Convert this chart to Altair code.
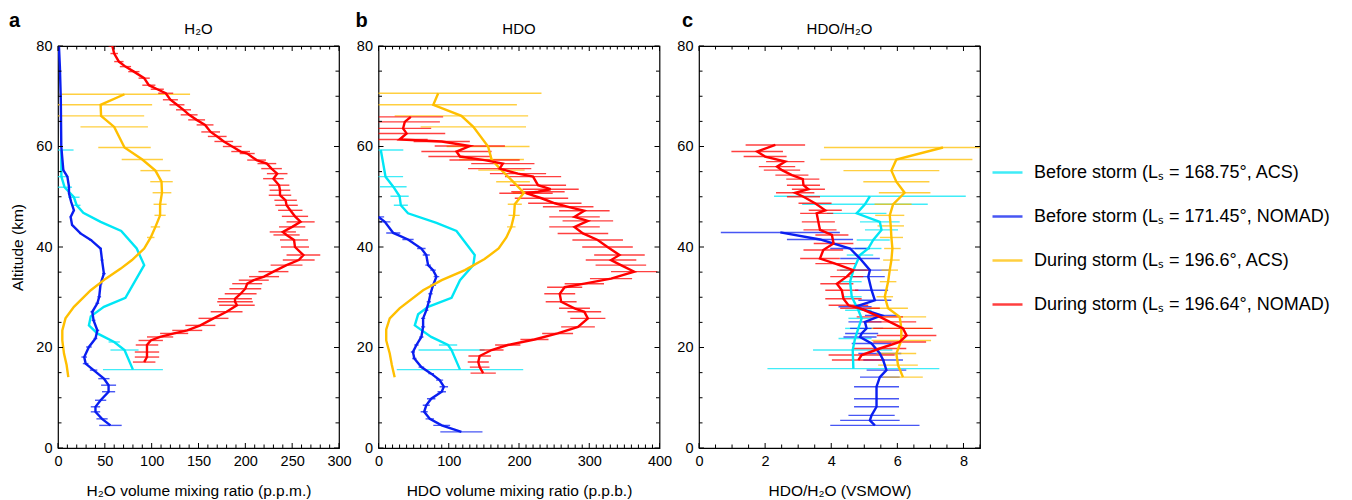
import altair as alt
import pandas as pd

FONT = "Liberation Sans"
SERIES = [
    "Before storm (Lₛ = 168.75°, ACS)",
    "Before storm (Lₛ = 171.45°, NOMAD)",
    "During storm (Lₛ = 196.6°, ACS)",
    "During storm (Lₛ = 196.64°, NOMAD)",
]
COLORS = ["#00e6f5", "#0a1ef0", "#ffbf00", "#ff0000"]

# ---------------- Panel a: H2O (p.p.m.) ----------------
a_cyan_alt = [59.3, 54.0, 51.9, 49.9, 48.3, 46.8, 45.0, 43.2, 39.7, 36.4, 29.9, 28.1, 26.2, 24.4, 22.8, 21.1, 19.5, 15.6]
a_cyan_val = [3.6, 3.6, 7, 17, 20, 27, 45.5, 67.5, 84, 92, 72, 49, 35, 33, 42, 60, 71, 80]
a_cyan_err = [13, 5, 8, 6, 4, 0, 0, 0, 0, 0, 0, 0, 0, 0, 0, 6, 15, 32]

a_blue_alt = [80, 75.9, 69.3, 60, 55.3, 54, 52, 50.7, 49, 47.3, 46, 44.4, 42.7, 41.4, 39.7, 37.4, 34.7, 32.7, 30.1, 28.8,
              27.1, 25.4, 23.4, 21.8, 20.1, 18.1, 16.8, 15.5, 13.8, 12.5, 11.2, 9.5, 8.2, 7.2, 5.8, 4.5]
a_blue_val = [1, 2, 3, 3.5, 5.7, 10, 11.7, 11.7, 14, 17, 13.5, 15, 24, 35, 45.5, 47, 49, 45.5, 44, 42,
              36.6, 38, 42, 40, 33, 28, 29.5, 38, 49, 54, 54, 45.5, 40, 40, 47, 56]
a_blue_err = [0, 0, 0, 0, 1, 1, 1, 1, 1, 1, 1, 1, 1.5, 1.5, 1.5, 1.5, 2, 2, 2, 2,
              2, 2, 2, 2, 3, 3, 3, 4, 6, 8, 7, 6, 5, 5, 6, 12]

a_orange_alt = [70.4, 68.3, 66.1, 63.9, 59.8, 57.4, 55.2, 53.0, 50.8, 48.5, 46.3, 44.0, 41.9, 39.7, 37.4, 35.7, 33.7,
                31.4, 28.1, 25.8, 23.4, 21.4, 18.8, 16.5, 14.1]
a_orange_val = [71, 45.5, 46, 60, 71, 90, 104, 110.5, 111, 109, 109, 104, 99, 92, 79, 67, 51, 35, 17, 8, 4.6, 4.6,
                6.4, 9.2, 11]
a_orange_err = [70, 55, 46, 36, 28, 22, 16, 12, 10, 7, 6, 5, 4, 0, 0, 0, 0, 0, 0, 0, 0, 0, 0, 0, 0]

a_red_alt = [80, 78.5, 76.9, 75.9, 74.9, 73.6, 72.2, 71.4, 70.6, 69.3, 68.3, 67.3, 66.3, 65.3, 64.3, 62.9, 62.0, 61.0,
             60.0, 59.0, 58.6, 57.3, 56.6, 55.6, 54.6, 53.6, 52.3, 51.3, 50.3, 49.3, 48.3, 47.3, 46.1, 45.0, 44.0,
             43.0, 42.4, 41.4, 40.0, 38.4, 37.4, 36.4, 35.1, 34.1, 33.4, 32.7, 31.7, 30.7, 29.7, 29.1, 28.4, 27.1,
             25.8, 24.4, 23.4, 22.8, 22.1, 21.4, 20.5, 19.1, 18.1, 17.1]
a_red_val = [58, 60, 65, 72, 81, 92, 97, 106, 115, 120, 127, 134, 140, 148, 157, 163, 170, 177, 186, 195, 202, 212,
             223, 228, 234, 230, 236, 237, 237, 243, 244, 248, 253, 259, 250, 240, 244, 252, 253, 262, 257, 244,
             230, 220, 209, 202, 200, 195, 189, 189, 191, 180, 166, 152, 138, 124, 109, 99, 95, 95, 95, 92]
a_red_err = [4, 4, 5, 6, 6, 6, 7, 7, 8, 8, 8, 8, 9, 9, 9, 10, 10, 10, 10, 10, 8, 10, 10, 11, 11, 11, 11, 11, 12,
             12, 12, 13, 14, 15, 14, 14, 14, 15, 15, 18, 17, 17, 16, 16, 16, 16, 17, 17, 18, 19, 19, 17, 16, 16,
             16, 15, 14, 13, 12, 13, 13, 12]

# ---------------- Panel b: HDO (p.p.b.) ----------------
b_cyan_alt = [59.3, 54.0, 52.0, 50.1, 48.3, 46.7, 44.8, 43.2, 39.7, 38.4, 36.4, 33.4, 29.9, 28.1, 26.6, 24.4, 22.1,
              20.5, 19.5, 15.6]
b_cyan_val = [3.3, 10, 21, 30, 31.8, 42, 82.5, 111, 130, 137, 135, 116, 104, 70.6, 56.4, 51.7, 75, 99, 104, 116]
b_cyan_err = [32, 25, 19, 13, 10, 0, 0, 0, 0, 0, 0, 0, 0, 0, 0, 0, 0, 13, 47, 90]

b_blue_alt = [46, 45, 42.8, 41.5, 39.7, 38.4, 36.4, 35.4, 34.1, 32.4, 30.7, 29.1, 27.4, 25.8, 24.1, 22.1, 20.5, 19.1,
              17.8, 16.1, 14.8, 13.5, 12.2, 11.2, 9.8, 8.5, 7.2, 5.8, 4.5, 3.2]
b_blue_val = [0, 9, 21, 42, 61, 68, 70.6, 77.7, 82.5, 77.7, 74, 71.6, 68, 63.5, 63.5, 61, 54, 49, 51, 61, 75, 87, 93,
              90, 75, 68, 65, 73, 90, 118]
b_blue_err = [8, 8, 10, 8, 6, 5, 4, 4, 4, 4, 3, 3, 3, 3, 3, 3, 3, 3, 3, 4, 4, 5, 6, 6, 6, 5, 5, 6, 12, 30]

b_orange_alt = [70.6, 68.3, 66.1, 63.9, 60.0, 57.4, 55.3, 53.0, 50.8, 48.5, 46.3, 44.0, 41.9, 39.7, 37.6, 35.4, 33.4,
                31.4, 27.8, 25.8, 23.6, 21.4, 18.8, 16.5, 14.1]
b_orange_val = [85, 78, 118, 135, 156, 161, 175, 191.5, 207, 194, 193, 189, 182, 171, 151, 123, 90, 63.5, 30, 16, 11,
                11, 16, 19, 23]
b_orange_err = [147, 119, 95, 75, 59, 46, 33, 24, 16, 10, 8, 6, 0, 0, 0, 0, 0, 0, 0, 0, 0, 0, 0, 0, 0]

b_red_alt = [65.9, 64.9, 63.6, 62.6, 61.4, 61.0, 60.1, 59.0, 58.0, 57.3, 56.6, 55.6, 54.6, 54.0, 52.3, 51.5, 51.0,
             50.7, 49.7, 48.7, 48.0, 47.2, 46.0, 45.2, 44.0, 42.7, 41.4, 40.0, 38.4, 37.4, 36.4, 35.1, 33.7, 32.7,
             32.0, 30.7, 29.1, 27.8, 27.1, 25.8, 24.1, 22.8, 21.6, 20.5, 19.5, 18.3, 17.1, 16.1, 14.9]
b_red_val = [46, 37.4, 35, 40, 30, 90, 130, 111, 116, 151, 177, 172.5, 198.6, 220, 227, 245, 227, 210, 232, 251, 270,
             293, 279, 298, 279, 291, 312, 326, 343, 331, 345, 364, 331, 293, 265, 258, 260, 279, 293, 298, 284, 255,
             222, 184, 161, 144, 142, 144, 149]
b_red_err = [46, 50, 40, 55, 40, 40, 50, 50, 45, 50,
             45, 45, 40, 40, 40, 40, 38, 38, 38, 38,
             36, 36, 36, 36, 36, 36, 36, 36, 36, 36,
             36, 33, 30, 28, 25, 22, 22, 22, 24, 25,
             24, 22, 20, 18, 17, 16, 15, 14, 18]

# ---------------- Panel c: HDO/H2O (VSMOW) ----------------
c_cyan_alt = [50.1, 48.5, 46.7, 45.0, 43.4, 41.4, 39.7, 38.4, 35.4, 33.1, 30.1, 27.4, 25.8, 23.8, 21.8, 19.5, 15.8]
c_cyan_val = [5.17, 5.02, 4.77, 5.47, 5.52, 5.27, 5.12, 4.87, 4.67, 4.57, 4.62, 4.82, 4.92, 4.82, 4.72, 4.65, 4.67]
c_cyan_err = [2.9, 1.9, 0.9, 0.6, 0.5, 0.5, 0.4, 0.4, 0.4, 0.35, 0.3, 0.4, 0.4, 0.4, 0.5, 1.2, 2.6]

c_blue_alt = [42.9, 41.5, 39.7, 37.7, 35.4, 34.1, 31.4, 29.4, 28.1, 26.4, 25.1, 23.8, 22.8, 22.1, 20.8, 18.8, 17.5,
              15.5, 14.1, 12.2, 9.8, 8.2, 6.5, 5.5, 4.5]
c_blue_val = [2.46, 3.66, 4.57, 4.87, 5.17, 5.12, 5.22, 5.32, 4.72, 5.52, 5.02, 5.07, 4.92, 4.87, 5.22, 5.47, 5.57,
              5.67, 5.47, 5.37, 5.37, 5.37, 5.22, 5.17, 5.32]
c_blue_err = [1.8, 1.0, 0.6, 0.6, 0.6, 0.5, 0.5, 0.5, 0.5, 0.5, 0.5, 0.5, 0.5, 0.5, 0.6, 0.65, 0.6, 0.6, 0.6, 0.68,
              0.68, 0.68, 0.7, 0.9, 1.35]

c_orange_alt = [59.8, 57.4, 55.2, 53.0, 50.8, 48.5, 46.3, 44.2, 41.9, 39.7, 37.4, 35.4, 33.1, 30.1, 27.8, 26.1, 23.8,
                21.4, 18.8, 16.5, 14.1]
c_orange_val = [7.38, 5.97, 5.82, 5.97, 6.22, 5.87, 5.77, 5.8, 5.82, 5.85, 5.82, 5.77, 5.72, 5.62, 5.72, 6.07, 6.12,
                6.12, 5.97, 6.02, 6.17]
c_orange_err = [3.6, 2.3, 1.45, 1.0, 0.78, 0.56, 0.44, 0.4, 0.35, 0.25, 0.25, 0.25, 0.25, 0.25, 0.6, 0.8, 0.9, 0.9,
                0.6, 0.6, 0.6]

c_red_alt = [60.3, 59.0, 58.0, 57.0, 56.0, 55.3, 54.3, 53.5, 52.3, 51.5, 50.8, 50.0, 48.7, 47.3, 46.7, 45.0, 43.4,
             42.4, 40.7, 39.4, 37.7, 36.7, 35.4, 34.1, 32.7, 31.4, 29.7, 28.4, 27.8, 26.1, 25.1, 23.8, 22.4, 21.1,
             19.8, 18.5, 17.5]
c_red_val = [2.31, 1.76, 2.0, 2.61, 2.36, 2.51, 2.81, 3.14, 3.16, 3.31, 2.91, 3.16, 3.51, 3.82, 3.56, 3.61, 3.66,
             4.02, 4.07, 3.76, 3.66, 4.12, 4.67, 4.47, 4.17, 4.32, 4.37, 4.52, 4.87, 5.47, 5.77, 6.17, 6.28, 6.07,
             5.47, 4.92, 4.82]
c_red_err = [0.9, 0.78, 0.65, 0.58, 0.55, 0.55, 0.5, 0.5, 0.5, 0.5, 0.58, 0.5, 0.5, 0.5, 0.5, 0.5, 0.5, 0.5, 0.6,
             0.6, 0.6, 0.6, 0.5, 0.5, 0.5, 0.5, 0.55, 0.6, 0.6, 0.7, 0.8, 0.9, 0.9, 0.8, 0.8, 1.0, 0.8]

# tick values
Y_MAJOR = [0, 20, 40, 60, 80]
Y_MINOR = [5, 10, 15, 25, 30, 35, 45, 50, 55, 65, 70, 75]
A_MAJOR = [0, 50, 100, 150, 200, 250, 300]
A_MINOR = [v for v in range(10, 300, 10) if v % 50]
B_MAJOR = [0, 100, 200, 300, 400]
B_MINOR = [v for v in range(10, 400, 10) if v % 100]
C_MAJOR = [0, 2, 4, 6, 8]
C_MINOR = [0.5, 1, 1.5, 2.5, 3, 3.5, 4.5, 5, 5.5, 6.5, 7, 7.5, 8.5]


def frame(groups):
    rows = []
    for s, (alts, vals, errs) in enumerate(groups):
        for i, (a, v, e) in enumerate(zip(alts, vals, errs)):
            rows.append({"series": SERIES[s], "alt": a, "val": v, "lo": v - e, "hi": v + e, "i": i})
    return pd.DataFrame(rows)


df_a = frame([(a_cyan_alt, a_cyan_val, a_cyan_err), (a_blue_alt, a_blue_val, a_blue_err),
              (a_orange_alt, a_orange_val, a_orange_err), (a_red_alt, a_red_val, a_red_err)])
df_b = frame([(b_cyan_alt, b_cyan_val, b_cyan_err), (b_blue_alt, b_blue_val, b_blue_err),
              (b_orange_alt, b_orange_val, b_orange_err), (b_red_alt, b_red_val, b_red_err)])
df_c = frame([(c_cyan_alt, c_cyan_val, c_cyan_err), (c_blue_alt, c_blue_val, c_blue_err),
              (c_orange_alt, c_orange_val, c_orange_err), (c_red_alt, c_red_val, c_red_err)])

W, H = 281, 402
MAJ, MIN = 5, 3.5

LEGEND = alt.Legend(
    title=None, orient="none", legendX=933, legendY=110, symbolType="stroke",
    symbolSize=900, symbolStrokeWidth=2.5, labelFontSize=18, labelFont=FONT,
    labelColor="black", rowPadding=18, labelOffset=10, labelLimit=0)


def panel(df, xmax, xmaj, xmin, title, xtitle, letter, letter_dx, ytitle):
    xs = alt.Scale(domain=[0, xmax], nice=False, zero=False)
    ys = alt.Scale(domain=[0, 80], nice=False, zero=False)
    cscale = alt.Scale(domain=SERIES, range=COLORS)
    yaxis = alt.Axis(values=Y_MAJOR, labelPadding=6, titlePadding=10)
    xaxis = alt.Axis(values=xmaj, labelPadding=6, titlePadding=16, labelFlush=False)

    def X(f):
        return alt.X(f, scale=xs, axis=xaxis, title=xtitle)

    def Y(f):
        return alt.Y(f, scale=ys, axis=yaxis, title=ytitle)

    bars = alt.Chart(df).mark_rule(strokeWidth=1.4, opacity=0.75, clip=True).encode(
        x=X("lo:Q"), x2="hi:Q", y=Y("alt:Q"),
        color=alt.Color("series:N", scale=cscale, legend=LEGEND),
    )
    line = alt.Chart(df).mark_line(strokeWidth=2.4, clip=True).encode(
        x=X("val:Q"), y=Y("alt:Q"), order="i:Q",
        color=alt.Color("series:N", scale=cscale, legend=LEGEND),
    )
    layers = []
    for vals, ln in ((xmaj, MAJ), (xmin, MIN)):
        d = pd.DataFrame({"v": vals})
        layers.append(alt.Chart(d).mark_rule(color="black", strokeWidth=1).encode(
            x=X("v:Q"), y=alt.value(H), y2=alt.value(H - ln)))
        layers.append(alt.Chart(d).mark_rule(color="black", strokeWidth=1).encode(
            x=X("v:Q"), y=alt.value(0), y2=alt.value(ln)))
    for vals, ln in ((Y_MAJOR, MAJ), (Y_MINOR, MIN)):
        d = pd.DataFrame({"v": vals})
        layers.append(alt.Chart(d).mark_rule(color="black", strokeWidth=1).encode(
            y=Y("v:Q"), x=alt.value(0), x2=alt.value(ln)))
        layers.append(alt.Chart(d).mark_rule(color="black", strokeWidth=1).encode(
            y=Y("v:Q"), x=alt.value(W), x2=alt.value(W - ln)))
    let = alt.Chart(pd.DataFrame({"t": [letter]})).mark_text(
        x=letter_dx, y=-19, align="left", baseline="alphabetic", fontSize=20,
        fontWeight="bold", font=FONT, color="black").encode(text="t:N")
    ttl = alt.Chart(pd.DataFrame({"t": [title]})).mark_text(
        x=W / 2, y=-12, align="center", baseline="alphabetic", fontSize=15,
        font=FONT, color="black").encode(text="t:N")
    return alt.layer(bars, line, *layers, let, ttl).properties(width=W, height=H)


pa = panel(df_a, 300, A_MAJOR, A_MINOR, "H₂O", "H₂O volume mixing ratio (p.p.m.)", "a", -49, "Altitude (km)")
pb = panel(df_b, 400, B_MAJOR, B_MINOR, "HDO", "HDO volume mixing ratio (p.p.b.)", "b", -23, None)
pc = panel(df_c, 8.5, C_MAJOR, C_MINOR, "HDO/H₂O", "HDO/H₂O (VSMOW)", "c", -17, None)

chart = alt.hconcat(pa, pb, pc, spacing=39.5, bounds="flush").configure_view(
    stroke="black", strokeWidth=1.2
).configure_axis(
    labelFont=FONT, titleFont=FONT, labelFontSize=14.5, titleFontSize=15.5, labelColor="black",
    titleColor="black", titleFontWeight="normal", grid=False, ticks=False, domain=False
).properties(padding={"left": 8, "top": 10, "right": 5, "bottom": 0}, background="white")

chart.save("out.html", embed_options={"renderer": "svg", "actions": False})
